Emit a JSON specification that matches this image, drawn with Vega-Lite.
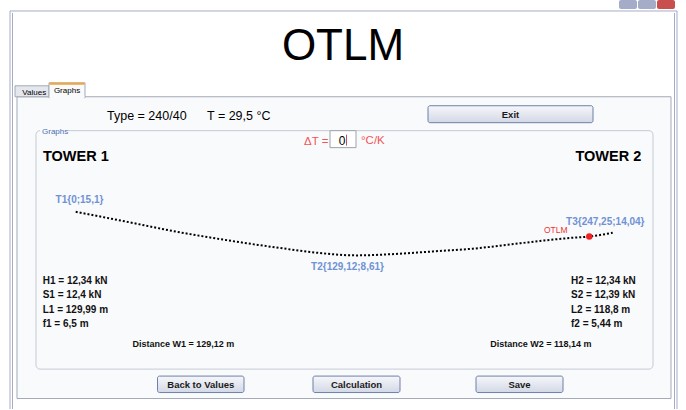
{
  "$schema": "https://vega.github.io/schema/vega-lite/v6.json",
  "width": 686,
  "height": 410,
  "autosize": {"type": "fit", "contains": "padding"},
  "padding": 0,
  "background": "#ffffff",
  "config": {"view": {"stroke": null}, "text": {"font": "Liberation Sans"}},
  "datasets": {
    "curve": [
      {"dist": 0, "h": 15.1},
      {"dist": 23.48, "h": 13.62},
      {"dist": 46.5, "h": 12.13},
      {"dist": 69.52, "h": 10.88},
      {"dist": 83.94, "h": 10.17},
      {"dist": 95.45, "h": 9.65},
      {"dist": 110.96, "h": 9.01},
      {"dist": 129.12, "h": 8.61},
      {"dist": 149.32, "h": 8.86},
      {"dist": 164.51, "h": 9.2},
      {"dist": 182.93, "h": 9.61},
      {"dist": 198.45, "h": 10.17},
      {"dist": 213.78, "h": 10.76},
      {"dist": 228.97, "h": 11.24},
      {"dist": 236.47, "h": 11.42},
      {"dist": 247.25, "h": 11.98}
    ],
    "points": [
      {"id": "T1", "dist": 0, "h": 15.1, "label": "T1{0;15,1}"},
      {"id": "T2", "dist": 129.12, "h": 8.61, "label": "T2{129,12;8,61}"},
      {"id": "T3", "dist": 247.25, "h": 11.98, "label": "T3{247,25;14,04}"}
    ],
    "marker": [{"dist": 236.47, "h": 11.42, "label": "OTLM"}]
  },
  "resolve": {"scale": {"x": "independent", "y": "independent"}},
  "layer": [
    {
      "layer": [
        {
          "data": {"values": [
            {"k": "min", "x": 619, "x2": 637, "y": 0, "y2": 9},
            {"k": "max", "x": 638, "x2": 656, "y": 0, "y2": 9},
            {"k": "close", "x": 657, "x2": 675, "y": 0, "y2": 9}
          ]},
          "mark": {"type": "rect", "cornerRadius": 2},
          "encoding": {
            "x": {"field": "x", "type": "quantitative", "scale": {"domain": [0, 686], "nice": false, "zero": false}, "axis": null},
            "x2": {"field": "x2"},
            "y": {"field": "y", "type": "quantitative", "scale": {"domain": [0, 410], "nice": false, "zero": false, "reverse": true}, "axis": null},
            "y2": {"field": "y2"},
            "color": {"field": "k", "type": "nominal", "scale": {"domain": ["min", "max", "close"], "range": ["#a4acc8", "#a4acc8", "#c94f4f"]}, "legend": null}
          }
        },
        {
          "data": {"values": [{"x": 17, "x2": 671, "y": 97, "y2": 399.5}]},
          "mark": {"type": "rect", "fill": "#f9fafc", "stroke": "#a3a9b5", "strokeWidth": 1},
          "encoding": {
            "x": {"field": "x", "type": "quantitative", "scale": {"domain": [0, 686], "nice": false, "zero": false}, "axis": null},
            "x2": {"field": "x2"},
            "y": {"field": "y", "type": "quantitative", "scale": {"domain": [0, 410], "nice": false, "zero": false, "reverse": true}, "axis": null},
            "y2": {"field": "y2"}
          }
        },
        {
          "data": {"values": [
            {"k": "values", "x": 15, "x2": 49, "y": 86, "y2": 97},
            {"k": "graphs", "x": 49, "x2": 85, "y": 83, "y2": 98}
          ]},
          "mark": {"type": "rect", "stroke": "#a3a9b5", "strokeWidth": 1},
          "encoding": {
            "x": {"field": "x", "type": "quantitative", "scale": {"domain": [0, 686], "nice": false, "zero": false}, "axis": null},
            "x2": {"field": "x2"},
            "y": {"field": "y", "type": "quantitative", "scale": {"domain": [0, 410], "nice": false, "zero": false, "reverse": true}, "axis": null},
            "y2": {"field": "y2"},
            "fill": {"field": "k", "type": "nominal", "scale": {"domain": ["values", "graphs"], "range": ["#e4e7ed", "#f9fafc"]}, "legend": null}
          }
        },
        {
          "data": {"values": [{"x": 49.6, "x2": 84.4, "y": 96, "y2": 99.5}]},
          "mark": {"type": "rect", "fill": "#f9fafc"},
          "encoding": {
            "x": {"field": "x", "type": "quantitative", "scale": {"domain": [0, 686], "nice": false, "zero": false}, "axis": null},
            "x2": {"field": "x2"},
            "y": {"field": "y", "type": "quantitative", "scale": {"domain": [0, 410], "nice": false, "zero": false, "reverse": true}, "axis": null},
            "y2": {"field": "y2"}
          }
        },
        {
          "data": {"values": [{"x": 36, "x2": 653, "y": 131, "y2": 370}]},
          "mark": {"type": "rect", "fill": "transparent", "stroke": "#c6cad3", "strokeWidth": 1, "cornerRadius": 4},
          "encoding": {
            "x": {"field": "x", "type": "quantitative", "scale": {"domain": [0, 686], "nice": false, "zero": false}, "axis": null},
            "x2": {"field": "x2"},
            "y": {"field": "y", "type": "quantitative", "scale": {"domain": [0, 410], "nice": false, "zero": false, "reverse": true}, "axis": null},
            "y2": {"field": "y2"}
          }
        },
        {
          "data": {"values": [{"x": 40, "x2": 68, "y": 127, "y2": 136}]},
          "mark": {"type": "rect", "fill": "#f9fafc"},
          "encoding": {
            "x": {"field": "x", "type": "quantitative", "scale": {"domain": [0, 686], "nice": false, "zero": false}, "axis": null},
            "x2": {"field": "x2"},
            "y": {"field": "y", "type": "quantitative", "scale": {"domain": [0, 410], "nice": false, "zero": false, "reverse": true}, "axis": null},
            "y2": {"field": "y2"}
          }
        },
        {
          "data": {"values": [
            {"x": 428, "x2": 593, "y": 106, "y2": 123},
            {"x": 157.5, "x2": 244, "y": 377, "y2": 393.5},
            {"x": 313, "x2": 400, "y": 377, "y2": 393.5},
            {"x": 476, "x2": 563, "y": 377, "y2": 393.5}
          ]},
          "mark": {"type": "rect", "stroke": "#6d80a8", "strokeWidth": 1, "cornerRadius": 2,
            "fill": {"gradient": "linear", "x1": 0, "y1": 0, "x2": 0, "y2": 1,
              "stops": [{"offset": 0, "color": "#f6f7fa"}, {"offset": 1, "color": "#d3d8e6"}]}},
          "encoding": {
            "x": {"field": "x", "type": "quantitative", "scale": {"domain": [0, 686], "nice": false, "zero": false}, "axis": null},
            "x2": {"field": "x2"},
            "y": {"field": "y", "type": "quantitative", "scale": {"domain": [0, 410], "nice": false, "zero": false, "reverse": true}, "axis": null},
            "y2": {"field": "y2"}
          }
        },
        {
          "data": {"values": [{"x": 330, "x2": 356, "y": 131, "y2": 148}]},
          "mark": {"type": "rect", "fill": "#ffffff", "stroke": "#9da2ab", "strokeWidth": 1},
          "encoding": {
            "x": {"field": "x", "type": "quantitative", "scale": {"domain": [0, 686], "nice": false, "zero": false}, "axis": null},
            "x2": {"field": "x2"},
            "y": {"field": "y", "type": "quantitative", "scale": {"domain": [0, 410], "nice": false, "zero": false, "reverse": true}, "axis": null},
            "y2": {"field": "y2"}
          }
        },
        {
          "data": {"values": [
            {"k": "outer", "x": 10, "x2": 677, "y": 11, "y2": 11},
            {"k": "outer", "x": 10, "x2": 10, "y": 11, "y2": 410},
            {"k": "outer", "x": 677, "x2": 677, "y": 11, "y2": 410},
            {"k": "inner", "x": 12.5, "x2": 12.5, "y": 13, "y2": 410},
            {"k": "inner", "x": 674.5, "x2": 674.5, "y": 13, "y2": 410},
            {"k": "cursor", "x": 346.5, "x2": 346.5, "y": 135, "y2": 146}
          ]},
          "mark": {"type": "rule", "strokeWidth": 1},
          "encoding": {
            "x": {"field": "x", "type": "quantitative", "scale": {"domain": [0, 686], "nice": false, "zero": false}, "axis": null},
            "x2": {"field": "x2"},
            "y": {"field": "y", "type": "quantitative", "scale": {"domain": [0, 410], "nice": false, "zero": false, "reverse": true}, "axis": null},
            "y2": {"field": "y2"},
            "color": {"field": "k", "type": "nominal", "scale": {"domain": ["outer", "inner", "cursor"], "range": ["#a2a8b6", "#d3d7df", "#000000"]}, "legend": null}
          }
        },
        {
          "data": {"values": [{"x": 49.5, "x2": 84.5, "y": 84, "y2": 84}]},
          "mark": {"type": "rule", "strokeWidth": 2, "color": "#f4a535"},
          "encoding": {
            "x": {"field": "x", "type": "quantitative", "scale": {"domain": [0, 686], "nice": false, "zero": false}, "axis": null},
            "x2": {"field": "x2"},
            "y": {"field": "y", "type": "quantitative", "scale": {"domain": [0, 410], "nice": false, "zero": false, "reverse": true}, "axis": null},
            "y2": {"field": "y2"}
          }
        },
        {
          "data": {"values": [{"t": "OTLM", "x": 343, "y": 60}]},
          "mark": {"type": "text", "fontSize": 44, "align": "center", "baseline": "alphabetic", "color": "#000000"},
          "encoding": {
            "x": {"field": "x", "type": "quantitative", "scale": {"domain": [0, 686], "nice": false, "zero": false}, "axis": null},
            "y": {"field": "y", "type": "quantitative", "scale": {"domain": [0, 410], "nice": false, "zero": false, "reverse": true}, "axis": null},
            "text": {"field": "t"}
          }
        },
        {
          "data": {"values": [{"t": "Type = 240/40", "x": 107, "y": 120}, {"t": "T = 29,5 °C", "x": 207, "y": 120}]},
          "mark": {"type": "text", "fontSize": 12.5, "align": "left", "baseline": "alphabetic", "color": "#000000"},
          "encoding": {
            "x": {"field": "x", "type": "quantitative", "scale": {"domain": [0, 686], "nice": false, "zero": false}, "axis": null},
            "y": {"field": "y", "type": "quantitative", "scale": {"domain": [0, 410], "nice": false, "zero": false, "reverse": true}, "axis": null},
            "text": {"field": "t"}
          }
        },
        {
          "data": {"values": [{"t": "Values", "x": 34.3, "y": 95}, {"t": "Graphs", "x": 67, "y": 93}]},
          "mark": {"type": "text", "fontSize": 8, "align": "center", "baseline": "alphabetic", "color": "#000000"},
          "encoding": {
            "x": {"field": "x", "type": "quantitative", "scale": {"domain": [0, 686], "nice": false, "zero": false}, "axis": null},
            "y": {"field": "y", "type": "quantitative", "scale": {"domain": [0, 410], "nice": false, "zero": false, "reverse": true}, "axis": null},
            "text": {"field": "t"}
          }
        },
        {
          "data": {"values": [{"t": "Graphs", "x": 42, "y": 134}]},
          "mark": {"type": "text", "fontSize": 8, "align": "left", "baseline": "alphabetic", "color": "#4a6db4"},
          "encoding": {
            "x": {"field": "x", "type": "quantitative", "scale": {"domain": [0, 686], "nice": false, "zero": false}, "axis": null},
            "y": {"field": "y", "type": "quantitative", "scale": {"domain": [0, 410], "nice": false, "zero": false, "reverse": true}, "axis": null},
            "text": {"field": "t"}
          }
        },
        {
          "data": {"values": [{"t": "TOWER 1", "x": 43, "y": 161.5}, {"t": "TOWER 2", "x": 575.5, "y": 161.5}]},
          "mark": {"type": "text", "fontSize": 14.5, "fontWeight": "bold", "align": "left", "baseline": "alphabetic", "color": "#000000"},
          "encoding": {
            "x": {"field": "x", "type": "quantitative", "scale": {"domain": [0, 686], "nice": false, "zero": false}, "axis": null},
            "y": {"field": "y", "type": "quantitative", "scale": {"domain": [0, 410], "nice": false, "zero": false, "reverse": true}, "axis": null},
            "text": {"field": "t"}
          }
        },
        {
          "data": {"values": [{"t": "ΔT =", "x": 304, "y": 145}, {"t": "°C/K", "x": 361, "y": 144.5}]},
          "mark": {"type": "text", "fontSize": 11.5, "align": "left", "baseline": "alphabetic", "color": "#f25555"},
          "encoding": {
            "x": {"field": "x", "type": "quantitative", "scale": {"domain": [0, 686], "nice": false, "zero": false}, "axis": null},
            "y": {"field": "y", "type": "quantitative", "scale": {"domain": [0, 410], "nice": false, "zero": false, "reverse": true}, "axis": null},
            "text": {"field": "t"}
          }
        },
        {
          "data": {"values": [{"t": "0", "x": 345.5, "y": 145.5}]},
          "mark": {"type": "text", "fontSize": 12, "align": "right", "baseline": "alphabetic", "color": "#000000"},
          "encoding": {
            "x": {"field": "x", "type": "quantitative", "scale": {"domain": [0, 686], "nice": false, "zero": false}, "axis": null},
            "y": {"field": "y", "type": "quantitative", "scale": {"domain": [0, 410], "nice": false, "zero": false, "reverse": true}, "axis": null},
            "text": {"field": "t"}
          }
        },
        {
          "data": {"values": [
            {"t": "H1 = 12,34 kN", "x": 42.7, "y": 285},
            {"t": "S1 = 12,4 kN", "x": 42.7, "y": 299.2},
            {"t": "L1 = 129,99 m", "x": 42.7, "y": 313.3},
            {"t": "f1 = 6,5 m", "x": 42.7, "y": 327.4},
            {"t": "H2 = 12,34 kN", "x": 571, "y": 285},
            {"t": "S2 = 12,39 kN", "x": 571, "y": 299.2},
            {"t": "L2 = 118,8 m", "x": 571, "y": 313.3},
            {"t": "f2 = 5,44 m", "x": 571, "y": 327.4}
          ]},
          "mark": {"type": "text", "fontSize": 10, "fontWeight": "bold", "align": "left", "baseline": "alphabetic", "color": "#111111"},
          "encoding": {
            "x": {"field": "x", "type": "quantitative", "scale": {"domain": [0, 686], "nice": false, "zero": false}, "axis": null},
            "y": {"field": "y", "type": "quantitative", "scale": {"domain": [0, 410], "nice": false, "zero": false, "reverse": true}, "axis": null},
            "text": {"field": "t"}
          }
        },
        {
          "data": {"values": [
            {"t": "Distance W1 = 129,12 m", "x": 183.3, "y": 348.3},
            {"t": "Distance W2 = 118,14 m", "x": 540.8, "y": 348.3}
          ]},
          "mark": {"type": "text", "fontSize": 9, "fontWeight": "bold", "align": "center", "baseline": "alphabetic", "color": "#111111"},
          "encoding": {
            "x": {"field": "x", "type": "quantitative", "scale": {"domain": [0, 686], "nice": false, "zero": false}, "axis": null},
            "y": {"field": "y", "type": "quantitative", "scale": {"domain": [0, 410], "nice": false, "zero": false, "reverse": true}, "axis": null},
            "text": {"field": "t"}
          }
        },
        {
          "data": {"values": [
            {"t": "Exit", "x": 510.5, "y": 118},
            {"t": "Back to Values", "x": 200.8, "y": 388.6},
            {"t": "Calculation", "x": 356.5, "y": 388.6},
            {"t": "Save", "x": 519.5, "y": 388.6}
          ]},
          "mark": {"type": "text", "fontSize": 9.5, "fontWeight": "bold", "align": "center", "baseline": "alphabetic", "color": "#1a1a1a"},
          "encoding": {
            "x": {"field": "x", "type": "quantitative", "scale": {"domain": [0, 686], "nice": false, "zero": false}, "axis": null},
            "y": {"field": "y", "type": "quantitative", "scale": {"domain": [0, 410], "nice": false, "zero": false, "reverse": true}, "axis": null},
            "text": {"field": "t"}
          }
        }
      ]
    },
    {
      "layer": [
        {
          "data": {"name": "curve"},
          "mark": {"type": "line", "color": "#000000", "strokeWidth": 2, "strokeDash": [2, 2], "interpolate": "monotone"},
          "encoding": {
            "x": {"field": "dist", "type": "quantitative", "scale": {"domain": [-34.85, 281.0], "nice": false, "zero": false}, "axis": null},
            "y": {"field": "h", "type": "quantitative", "scale": {"domain": [-14.26, 46.63], "nice": false, "zero": false}, "axis": null}
          }
        },
        {
          "data": {"name": "points"},
          "transform": [{"filter": "datum.id === 'T1'"}],
          "mark": {"type": "text", "fontSize": 10, "fontWeight": "bold", "align": "center", "baseline": "alphabetic", "color": "#6f92d4", "dx": 3.8, "dy": -8.8},
          "encoding": {
            "x": {"field": "dist", "type": "quantitative", "scale": {"domain": [-34.85, 281.0], "nice": false, "zero": false}, "axis": null},
            "y": {"field": "h", "type": "quantitative", "scale": {"domain": [-14.26, 46.63], "nice": false, "zero": false}, "axis": null},
            "text": {"field": "label"}
          }
        },
        {
          "data": {"name": "points"},
          "transform": [{"filter": "datum.id === 'T2'"}],
          "mark": {"type": "text", "fontSize": 10, "fontWeight": "bold", "align": "center", "baseline": "alphabetic", "color": "#6f92d4", "dx": -8.6, "dy": 15},
          "encoding": {
            "x": {"field": "dist", "type": "quantitative", "scale": {"domain": [-34.85, 281.0], "nice": false, "zero": false}, "axis": null},
            "y": {"field": "h", "type": "quantitative", "scale": {"domain": [-14.26, 46.63], "nice": false, "zero": false}, "axis": null},
            "text": {"field": "label"}
          }
        },
        {
          "data": {"name": "points"},
          "transform": [{"filter": "datum.id === 'T3'"}],
          "mark": {"type": "text", "fontSize": 10, "fontWeight": "bold", "align": "center", "baseline": "alphabetic", "color": "#6f92d4", "dx": -7.4, "dy": -7.8},
          "encoding": {
            "x": {"field": "dist", "type": "quantitative", "scale": {"domain": [-34.85, 281.0], "nice": false, "zero": false}, "axis": null},
            "y": {"field": "h", "type": "quantitative", "scale": {"domain": [-14.26, 46.63], "nice": false, "zero": false}, "axis": null},
            "text": {"field": "label"}
          }
        },
        {
          "data": {"name": "marker"},
          "mark": {"type": "point", "filled": true, "color": "#ee2222", "size": 42, "opacity": 1},
          "encoding": {
            "x": {"field": "dist", "type": "quantitative", "scale": {"domain": [-34.85, 281.0], "nice": false, "zero": false}, "axis": null},
            "y": {"field": "h", "type": "quantitative", "scale": {"domain": [-14.26, 46.63], "nice": false, "zero": false}, "axis": null}
          }
        },
        {
          "data": {"name": "marker"},
          "mark": {"type": "text", "fontSize": 8.5, "align": "center", "baseline": "alphabetic", "color": "#ee3333", "dx": -33.5, "dy": -3.3},
          "encoding": {
            "x": {"field": "dist", "type": "quantitative", "scale": {"domain": [-34.85, 281.0], "nice": false, "zero": false}, "axis": null},
            "y": {"field": "h", "type": "quantitative", "scale": {"domain": [-14.26, 46.63], "nice": false, "zero": false}, "axis": null},
            "text": {"field": "label"}
          }
        }
      ]
    }
  ]
}
